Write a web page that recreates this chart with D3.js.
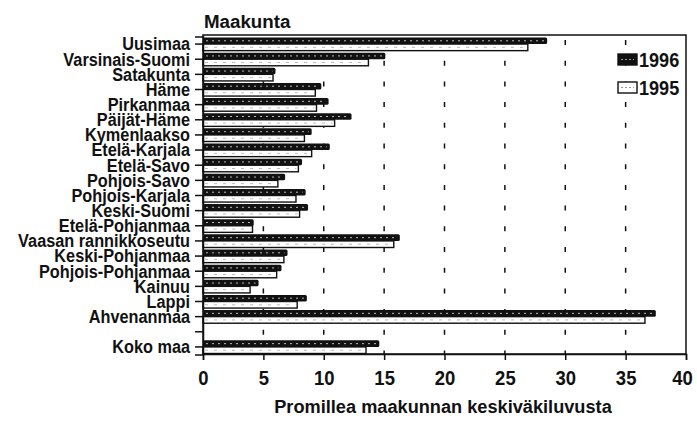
<!DOCTYPE html>
<html>
<head>
<meta charset="utf-8">
<script src="https://cdn.jsdelivr.net/npm/d3@7"></script>
<style>
  body { margin: 0; background: #fff; }
  svg { display: block; }
  .lab { font-family: "Liberation Sans", Arial, sans-serif; font-weight: bold; fill: #111; }
</style>
</head>
<body>
<div id="chart"></div>
<script>
const categories = ['Uusimaa', 'Varsinais-Suomi', 'Satakunta', 'Häme', 'Pirkanmaa', 'Päijät-Häme',
  'Kymenlaakso', 'Etelä-Karjala', 'Etelä-Savo', 'Pohjois-Savo', 'Pohjois-Karjala', 'Keski-Suomi',
  'Etelä-Pohjanmaa', 'Vaasan rannikkoseutu', 'Keski-Pohjanmaa', 'Pohjois-Pohjanmaa', 'Kainuu',
  'Lappi', 'Ahvenanmaa', ' ', 'Koko maa'];
const values1996 = [28.5, 15.1, 6.0, 9.8, 10.4, 12.3, 9.0, 10.5, 8.2, 6.8, 8.5, 8.7, 4.2, 16.3, 7.0, 6.5, 4.6, 8.6, 37.5, null, 14.6];
const values1995 = [26.9, 13.7, 5.8, 9.3, 9.4, 10.9, 8.4, 9.0, 7.9, 6.2, 7.7, 8.0, 4.1, 15.8, 6.7, 6.1, 3.9, 7.8, 36.6, null, 13.5];
const seriesNames = ['1996', '1995'];
const xTicks = [0, 5, 10, 15, 20, 25, 30, 35, 40];

const width = 697, height = 422;
const plotLeft = 203, plotRight = 686, plotTop = 35, plotBottom = 354;

const svg = d3.select('#chart').append('svg')
  .attr('width', width)
  .attr('height', height);

// squeeze text horizontally, the source font is a condensed one
function condense(sel, factor) {
  sel.each(function() {
    let w = this.getComputedTextLength();
    d3.select(this)
      .attr('textLength', w * factor)
      .attr('lengthAdjust', 'spacingAndGlyphs');
  });
}

let x = d3.scaleLinear().domain([0, 40]).range([plotLeft, plotRight]);
let y = d3.scaleBand().domain(categories).range([plotTop + 1.5, plotBottom + 0.5]);
let y1 = d3.scaleBand().domain(seriesNames).range([1, y.bandwidth() - 1]);

// dashed grid
svg.append('g')
  .selectAll('line')
  .data(xTicks.filter(d => d > 0 && d < 40))
  .enter().append('line')
  .attr('x1', d => x(d)).attr('x2', d => x(d))
  .attr('y1', plotTop + 5).attr('y2', plotBottom)
  .attr('stroke', '#111')
  .attr('stroke-width', 1.5)
  .attr('stroke-dasharray', '5,15.7');

// frame
svg.append('rect')
  .attr('x', plotLeft).attr('y', plotTop)
  .attr('width', plotRight - plotLeft).attr('height', plotBottom - plotTop)
  .attr('fill', 'none')
  .attr('stroke', '#111')
  .attr('stroke-width', 1.5);

const rows = categories.map((c, i) => ({c, v96: values1996[i], v95: values1995[i]}))
  .filter(d => d.v96 != null);

// 1995 bars (light)
let g95 = svg.append('g');
g95.selectAll('rect')
  .data(rows)
  .enter().append('rect')
  .attr('x', x(0))
  .attr('y', d => y(d.c) + y1('1995'))
  .attr('width', d => x(d.v95) - x(0))
  .attr('height', y1.bandwidth())
  .attr('fill', '#fff')
  .attr('stroke', '#111')
  .attr('stroke-width', 1.4);
g95.selectAll('line')
  .data(rows)
  .enter().append('line')
  .attr('x1', x(0) + 2).attr('x2', d => x(d.v95) - 2)
  .attr('y1', d => y(d.c) + y1('1995') + y1.bandwidth() / 2)
  .attr('y2', d => y(d.c) + y1('1995') + y1.bandwidth() / 2)
  .attr('stroke', '#bbb')
  .attr('stroke-width', 1)
  .attr('stroke-dasharray', '3,6');

// 1996 bars (dark)
let g96 = svg.append('g');
g96.selectAll('rect')
  .data(rows)
  .enter().append('rect')
  .attr('x', x(0))
  .attr('y', d => y(d.c) + y1('1996'))
  .attr('width', d => x(d.v96) - x(0))
  .attr('height', y1.bandwidth())
  .attr('rx', 1.5)
  .attr('fill', '#111');
g96.selectAll('line')
  .data(rows)
  .enter().append('line')
  .attr('x1', x(0) + 3).attr('x2', d => x(d.v96) - 3)
  .attr('y1', d => y(d.c) + y1('1996') + y1.bandwidth() / 2)
  .attr('y2', d => y(d.c) + y1('1996') + y1.bandwidth() / 2)
  .attr('stroke', '#bbb')
  .attr('stroke-width', 1)
  .attr('stroke-dasharray', '2,4');

// y axis
let yAxis = svg.append('g')
  .attr('transform', `translate(${plotLeft},0)`)
  .call(d3.axisLeft(y).tickSize(8).tickPadding(5));
yAxis.select('.domain').attr('stroke', '#111').attr('stroke-width', 1.5);
yAxis.selectAll('.tick line').attr('stroke', '#111').attr('stroke-width', 1.5);
yAxis.selectAll('.tick text')
  .attr('class', 'lab')
  .style('font-size', '17.5px')
  .attr('dy', '0.36em')
  .call(condense, 0.93);

// x axis
let xAxis = svg.append('g')
  .attr('transform', `translate(0,${plotBottom})`)
  .call(d3.axisBottom(x).tickValues(xTicks).tickSize(6).tickPadding(10));
xAxis.select('.domain').attr('stroke', '#111').attr('stroke-width', 1.5);
xAxis.selectAll('.tick line').attr('stroke', '#111').attr('stroke-width', 1.5);
xAxis.selectAll('.tick text')
  .attr('class', 'lab')
  .style('font-size', '21px')
  .attr('dx', d => d === 40 ? -4 : 0)
  .call(condense, 0.88);

// titles
svg.append('text')
  .attr('class', 'lab')
  .attr('x', plotLeft + 1).attr('y', 28)
  .style('font-size', '18px')
  .text('Maakunta')
  .call(condense, 1.04);

svg.append('text')
  .attr('class', 'lab')
  .attr('x', 443).attr('y', 413)
  .attr('text-anchor', 'middle')
  .style('font-size', '18px')
  .text('Promillea maakunnan keskiväkiluvusta')
  .call(condense, 1.01);

// legend
const legendY = {'1996': 54, '1995': 82};
let legend = svg.append('g')
  .selectAll('g')
  .data(seriesNames)
  .enter().append('g')
  .attr('transform', d => `translate(618,${legendY[d]})`);
legend.append('rect')
  .attr('width', 19).attr('height', 11)
  .attr('fill', d => d === '1996' ? '#111' : '#fff')
  .attr('stroke', '#111')
  .attr('stroke-width', 1.4);
legend.append('line')
  .attr('x1', 3).attr('x2', 16).attr('y1', 5.5).attr('y2', 5.5)
  .attr('stroke', '#999')
  .attr('stroke-width', 1)
  .attr('stroke-dasharray', '2,2');
legend.append('text')
  .attr('class', 'lab')
  .attr('x', 21).attr('y', 12.5)
  .style('font-size', '21px')
  .text(d => d)
  .call(condense, 0.86);
</script>
</body>
</html>
